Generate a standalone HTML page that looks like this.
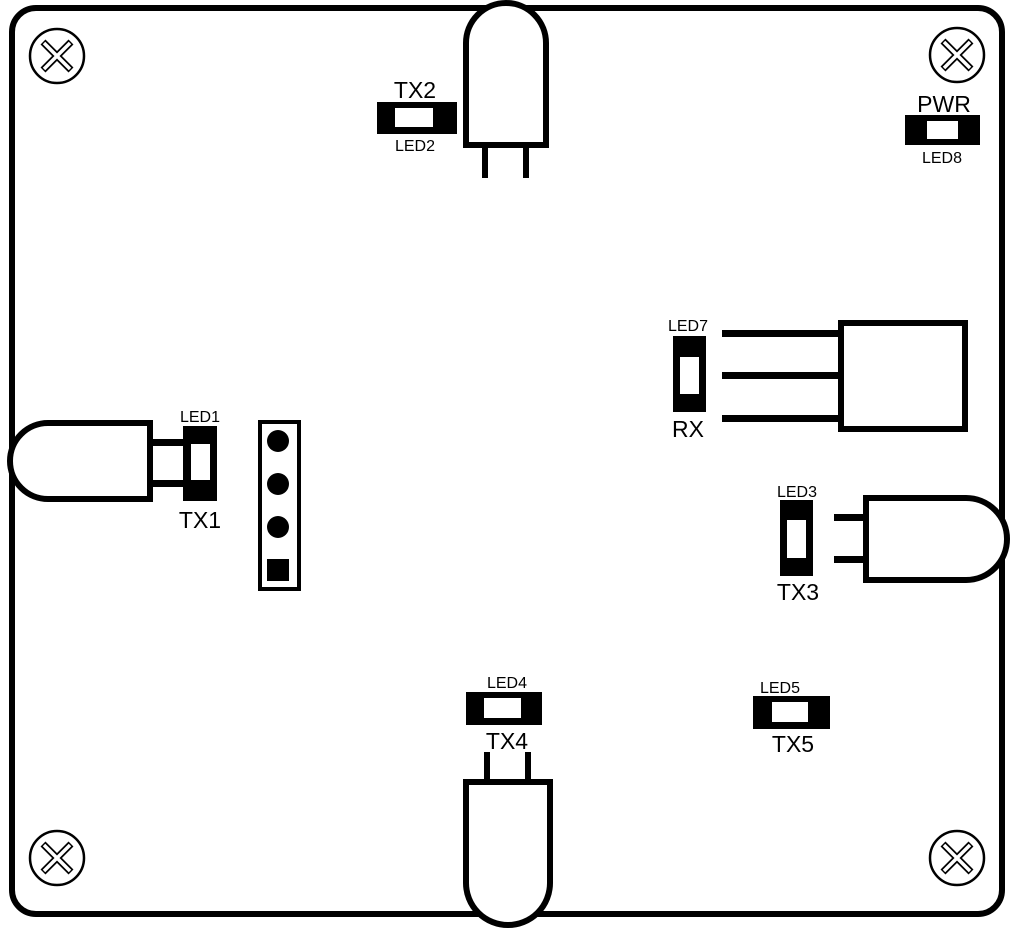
<!DOCTYPE html>
<html><head><style>
html,body{margin:0;padding:0;background:#fff;width:1019px;height:928px;overflow:hidden}
svg text{font-family:"Liberation Sans",sans-serif;fill:#000;text-anchor:middle}
</style></head><body>
<svg width="1019" height="928" viewBox="0 0 1019 928" xmlns="http://www.w3.org/2000/svg">
<rect x="0" y="0" width="1019" height="928" fill="#fff"/>
<rect x="12" y="8" width="990" height="906" rx="24" fill="none" stroke="#000" stroke-width="6"/>
<g fill="none" stroke="#000">
<g transform="translate(57,56)"><circle r="27" stroke-width="2.5" fill="#fff"/><path d="M-14,-14L14,14M14,-14L-14,14" stroke-width="7"/><path d="M-13,-13L13,13M13,-13L-13,13" stroke="#fff" stroke-width="3.5"/></g>
<g transform="translate(957,55)"><circle r="27" stroke-width="2.5" fill="#fff"/><path d="M-14,-14L14,14M14,-14L-14,14" stroke-width="7"/><path d="M-13,-13L13,13M13,-13L-13,13" stroke="#fff" stroke-width="3.5"/></g>
<g transform="translate(57,858)"><circle r="27" stroke-width="2.5" fill="#fff"/><path d="M-14,-14L14,14M14,-14L-14,14" stroke-width="7"/><path d="M-13,-13L13,13M13,-13L-13,13" stroke="#fff" stroke-width="3.5"/></g>
<g transform="translate(957,858)"><circle r="27" stroke-width="2.5" fill="#fff"/><path d="M-14,-14L14,14M14,-14L-14,14" stroke-width="7"/><path d="M-13,-13L13,13M13,-13L-13,13" stroke="#fff" stroke-width="3.5"/></g>
</g>
<path d="M466,145 L466,43 A40,40 0 0 1 546,43 L546,145 Z" fill="#fff" stroke="#000" stroke-width="6"/>
<rect x="482" y="145" width="6" height="33" fill="#000"/>
<rect x="523" y="145" width="6" height="33" fill="#000"/>
<rect x="377" y="102" width="80" height="32" fill="#000"/><rect x="395" y="108" width="38" height="19" fill="#fff"/>
<text x="415" y="98" font-size="23">TX2</text><text x="415" y="151" font-size="16">LED2</text>
<rect x="905" y="115" width="75" height="30" fill="#000"/><rect x="927" y="121" width="31" height="18" fill="#fff"/>
<text x="944" y="112" font-size="23">PWR</text><text x="942" y="163" font-size="16">LED8</text>
<path d="M150,423 L48,423 A38,38 0 0 0 48,499 L150,499 Z" fill="#fff" stroke="#000" stroke-width="6"/>
<rect x="150" y="439" width="33" height="7" fill="#000"/>
<rect x="150" y="480" width="33" height="7" fill="#000"/>
<rect x="183" y="426" width="34" height="75" fill="#000"/><rect x="191" y="444" width="19" height="36" fill="#fff"/>
<text x="200" y="422" font-size="16">LED1</text><text x="200" y="528" font-size="23">TX1</text>
<rect x="260" y="422" width="39" height="167" fill="#fff" stroke="#000" stroke-width="4"/>
<circle cx="278" cy="441" r="11"/><circle cx="278" cy="484" r="11"/><circle cx="278" cy="527" r="11"/>
<rect x="267" y="559" width="22" height="22" fill="#000"/>
<rect x="673" y="336" width="33" height="76" fill="#000"/><rect x="680" y="357" width="19" height="37" fill="#fff"/>
<text x="688" y="331" font-size="16">LED7</text><text x="688" y="437" font-size="23">RX</text>
<rect x="722" y="330" width="118" height="7" fill="#000"/>
<rect x="722" y="372" width="118" height="7" fill="#000"/>
<rect x="722" y="415" width="118" height="7" fill="#000"/>
<rect x="841" y="323" width="124" height="106" fill="#fff" stroke="#000" stroke-width="6"/>
<rect x="780" y="500" width="33" height="76" fill="#000"/><rect x="787" y="520" width="19" height="38" fill="#fff"/>
<text x="797" y="497" font-size="16">LED3</text><text x="798" y="600" font-size="23">TX3</text>
<rect x="834" y="514" width="32" height="7" fill="#000"/>
<rect x="834" y="556" width="32" height="7" fill="#000"/>
<path d="M866,498 L966,498 A41,41 0 0 1 966,580 L866,580 Z" fill="#fff" stroke="#000" stroke-width="6"/>
<rect x="466" y="692" width="76" height="33" fill="#000"/><rect x="484" y="698" width="37" height="20" fill="#fff"/>
<text x="507" y="688" font-size="16">LED4</text><text x="507" y="749" font-size="23">TX4</text>
<rect x="484" y="752" width="6" height="30" fill="#000"/>
<rect x="525" y="752" width="6" height="30" fill="#000"/>
<path d="M466,782 L466,883 A42,42 0 0 0 550,883 L550,782 Z" fill="#fff" stroke="#000" stroke-width="6"/>
<rect x="753" y="696" width="77" height="33" fill="#000"/><rect x="772" y="702" width="36" height="20" fill="#fff"/>
<text x="780" y="693" font-size="16">LED5</text><text x="793" y="752" font-size="23">TX5</text>
</svg>
</body></html>
